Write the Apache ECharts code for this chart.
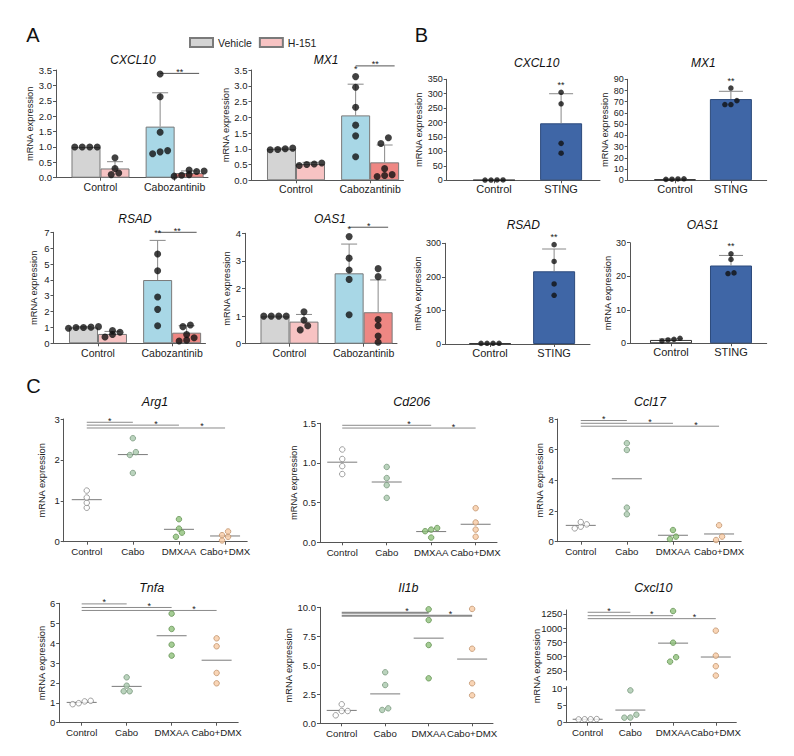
<!DOCTYPE html>
<html>
<head>
<meta charset="utf-8">
<title>mRNA expression panels</title>
<script src="https://cdn.jsdelivr.net/npm/echarts@6.0.0/dist/echarts.min.js"></script>
<style>
  html, body { margin: 0; padding: 0; background: #fff; }
  #chart { width: 794px; height: 756px; }
</style>
</head>
<body>
<div id="chart"></div>
<script>
const FONT = 'Arial, "Liberation Sans", Helvetica, sans-serif';
const AXIS = '#555';

// ---------- panel A: bars in order Control-Vehicle, Control-H151, Cabo-Vehicle, Cabo-H151
const aGroups = ['Control', 'Cabozantinib'];
const aLegend = ['Vehicle', 'H-151'];

const aCxcl10Mean = [1.00, 0.30, 1.66, 0.15];
const aCxcl10Sd = [0, 0.22, 1.10, 0.07];
const aCxcl10Pts = [
  [1.0, 1.0, 1.0, 1.0],
  [0.65, 0.30, 0.15, 0.10],
  [3.37, 2.63, 1.48, 0.84, 0.78, 0.88],
  [0.25, 0.22, 0.20, 0.10, 0.08, 0.05]
];
const aCxcl10Sig = [[2, 3, 3.39, '**']];
const aCxcl10Marks = [];

const aMx1Mean = [0.99, 0.52, 2.06, 0.57];
const aMx1Sd = [0.03, 0.05, 0.99, 0.55];
const aMx1Pts = [
  [1.02, 0.97, 1.00, 0.98],
  [0.55, 0.50, 0.47, 0.52],
  [3.29, 2.95, 2.32, 1.75, 1.41, 0.75],
  [1.35, 1.17, 0.37, 0.15, 0.12, 0.18]
];
const aMx1Sig = [[2, 3, 3.63, '**']];
const aMx1Marks = [[2, '*']];

const aRsadMean = [1.00, 0.59, 3.99, 0.67];
const aRsadSd = [0.05, 0.16, 2.50, 0.44];
const aRsadPts = [
  [1.05, 1.00, 0.95, 1.00, 1.02],
  [0.80, 0.70, 0.55, 0.40],
  [5.63, 4.58, 2.92, 2.14, 1.11],
  [1.15, 1.05, 0.55, 0.35, 0.15, 0.20]
];
const aRsadSig = [[2, 3, 7.0, '**']];
const aRsadMarks = [[2, '**']];

const aOas1Mean = [0.99, 0.80, 2.55, 1.14];
const aOas1Sd = [0.01, 0.26, 1.06, 1.17];
const aOas1Pts = [
  [1.0, 1.0, 1.0, 1.0],
  [1.16, 0.85, 0.65, 0.50],
  [3.88, 3.10, 2.67, 2.33, 1.05],
  [2.72, 2.43, 0.88, 0.65, 0.28, 0.05]
];
const aOas1Sig = [[2, 3, 4.22, '*']];
const aOas1Marks = [[2, '*']];

// ---------- panel B: Control, STING
const bGroups = ['Control', 'STING'];

const bCxcl10Mean = [1, 197.5];
const bCxcl10Sd = [0, 102.5];
const bCxcl10Pts = [[1.2, 0.8, 1.0, 1.1], [305, 265, 128, 94]];

const bMx1Mean = [1, 72.4];
const bMx1Sd = [0.3, 6.9];
const bMx1Pts = [[1.3, 0.8, 1.0, 1.2], [82.2, 71.0, 67.5, 67.5]];

const bRsadMean = [2, 216.6];
const bRsadSd = [0.5, 66.4];
const bRsadPts = [[2.2, 1.8, 2.0, 2.1], [296, 246, 179, 145]];

const bOas1Mean = [1.0, 23.2];
const bOas1Sd = [0.3, 3.0];
const bOas1Pts = [[1.5, 1.2, 0.7, 1.0], [26.7, 25.0, 21.0, 20.8]];

const bMarks = [[1, '**']];

// ---------- panel C: Control, Cabo, DMXAA, Cabo+DMX (line = group mean)
const cGroups = ['Control', 'Cabo', 'DMXAA', 'Cabo+DMX'];

const cArg1 = [[1.25, 1.08, 0.83, 0.95], [2.53, 2.19, 2.12, 1.68], [0.55, 0.32, 0.22, 0.12], [0.25, 0.16, 0.12, 0.03]];
const cArg1Sig = [[1, 2, 2.92, '*'], [1, 3, 2.85, '*'], [1, 4, 2.78, '*']];

const cCd206 = [[1.17, 1.05, 0.96, 0.86], [0.95, 0.81, 0.72, 0.56], [0.18, 0.16, 0.14, 0.06], [0.43, 0.25, 0.16, 0.07]];
const cCd206Sig = [[1, 3, 1.475, '*'], [1, 4, 1.44, '*']];

const cCcl17 = [[1.28, 1.13, 0.87, 0.98], [6.42, 5.98, 2.22, 1.79], [0.76, 0.33, 0.17], [1.07, 0.33, 0.11]];
const cCcl17Sig = [[1, 2, 7.9, '*'], [1, 3, 7.72, '*'], [1, 4, 7.53, '*']];

const cTnfa = [[1.07, 0.93, 1.10, 0.98], [2.28, 1.86, 1.58, 1.58], [5.48, 4.71, 3.92, 3.37], [4.24, 3.84, 2.50, 1.98]];
const cTnfaSig = [[1, 2, 5.97, '*'], [1, 3, 5.79, '*'], [1, 4, 5.64, '*']];

const cIl1b = [[1.64, 1.06, 1.06, 0.69], [4.40, 3.30, 1.15, 1.29], [9.83, 8.90, 6.75, 3.88], [9.86, 6.43, 3.45, 2.41]];
const cIl1bSig = [[1, 3, 9.54, '*'], [1, 4, 9.28, '*']];

const cCxcl10 = [[1.0, 1.05, 0.95, 1.0], [9.4, 2.33, 1.46, 1.5], [1302, 746, 490, 413], [957, 518, 332, 168]];
const cCxcl10Sig = [[1, 2, 1280, '*'], [1, 3, 1220, '*'], [1, 4, 1168, '*']];
const cCxcl10LowTicks = [0, 5, 10];
const cCxcl10HighTicks = [250, 500, 750, 1000, 1250];

// ---------- styles
const aFill = ['#d4d4d4', '#f7c3c3', '#a8d7e6', '#ee8783'];
const cFill = ['#ffffff', '#a9c8ad', '#8fc07a', '#f7caa4'];
const cEdge = ['#7a7a7a', '#6f8f74', '#5b8a49', '#b98a62'];
const C_FONT = 9.7;

const option = {
  animation: false,
  backgroundColor: '#fff',
  textStyle: { fontFamily: FONT },
  legend: {
    data: aLegend, left: 189, top: 37, padding: 0, icon: 'rect',
    itemWidth: 23, itemHeight: 9, itemGap: 7, selectedMode: false,
    textStyle: { fontSize: 10.5, color: '#222', fontFamily: FONT }
  },
  grid: [], xAxis: [], yAxis: [], series: [], graphic: []
};

function addGrid(p, groups, showX) {
  const i = option.grid.length;
  const cats = groups.map((g, k) => k + 1);
  option.grid.push({ left: p.left, top: p.top, width: p.width, height: p.height, outerBoundsMode: 'none' });
  option.xAxis.push({
    type: 'value', gridIndex: i, min: p.xMin, max: p.xMax,
    axisLine: { show: showX, onZero: false, lineStyle: { color: AXIS, width: 1 } },
    axisTick: { show: showX, customValues: cats, length: 3, lineStyle: { color: AXIS } },
    axisLabel: {
      show: showX, customValues: cats, hideOverlap: false, showMinLabel: true, showMaxLabel: true,
      formatter: v => groups[Math.round(v) - 1] || '',
      fontSize: p.xFont, color: '#222', margin: p.xMargin, fontFamily: FONT
    },
    splitLine: { show: false }
  });
  const y = {
    type: 'value', gridIndex: i, min: p.yMin || 0, max: p.yMax,
    axisLine: { show: true, onZero: false, lineStyle: { color: AXIS } },
    axisTick: { show: true, length: 3, lineStyle: { color: AXIS } },
    axisLabel: { fontSize: p.yFont || 9.5, color: '#222', margin: 4, fontFamily: FONT, formatter: v => v.toFixed(p.dec || 0) },
    splitLine: { show: false }
  };
  if (p.ticks) {
    y.axisTick.customValues = p.ticks;
    y.axisLabel.customValues = p.ticks;
  } else {
    y.interval = p.step;
  }
  if (p.nameGap) {
    Object.assign(y, {
      name: 'mRNA expression', nameLocation: 'middle', nameGap: p.nameGap,
      nameTextStyle: { fontSize: 9.3, color: '#222', fontFamily: FONT }
    });
  }
  option.yAxis.push(y);
  return i;
}

// rows of near-equal values are spread symmetrically around the group centre
function swarm(vals, cx, ux, uy, d) {
  const order = vals.map((v, i) => i).sort((a, b) => vals[a] - vals[b]);
  const out = [];
  let row = [];
  const flush = () => {
    row.forEach((i, k) => out.push([cx + (k - (row.length - 1) / 2) * d / ux, vals[i]]));
    row = [];
  };
  order.forEach(i => {
    if (row.length && (vals[i] - vals[row[0]]) * uy >= d * 0.8) flush();
    row.push(i);
  });
  flush();
  return out;
}

function scales(p) {
  return [p.width / (p.xMax - p.xMin), p.height / (p.yMax - (p.yMin || 0))];
}

function dots(gi, p, xs, pts, idx, size, styleFor) {
  const [ux, uy] = scales(p);
  idx.forEach(g => {
    option.series.push({
      type: 'scatter', xAxisIndex: gi, yAxisIndex: gi, symbolSize: size, z: 5,
      itemStyle: styleFor(g), data: swarm(pts[g], xs[g], ux, uy, size + 0.5)
    });
  });
}

function errorBars(gi, xs, mean, sd, cap) {
  option.series.push({
    type: 'custom', xAxisIndex: gi, yAxisIndex: gi, z: 3,
    data: mean.map((m, k) => [xs[k], m, m + sd[k]]).filter((d, k) => sd[k] > 0),
    renderItem: (params, api) => {
      const a = api.coord([api.value(0), api.value(1)]);
      const b = api.coord([api.value(0), api.value(2)]);
      const st = { stroke: '#888', lineWidth: 1 };
      return {
        type: 'group', children: [
          { type: 'line', shape: { x1: a[0], y1: a[1], x2: b[0], y2: b[1] }, style: st },
          { type: 'line', shape: { x1: b[0] - cap / 2, y1: b[1], x2: b[0] + cap / 2, y2: b[1] }, style: st }
        ]
      };
    }
  });
}

// lines: [x1, x2, y, text, textX]
function sigLines(gi, lines, color, width) {
  option.series.push({
    type: 'custom', xAxisIndex: gi, yAxisIndex: gi, z: 4,
    data: lines.map(l => [l[0], l[1], l[2], l[4]]),
    renderItem: (params, api) => {
      const a = api.coord([api.value(0), api.value(2)]);
      const b = api.coord([api.value(1), api.value(2)]);
      const t = api.coord([api.value(3), api.value(2)]);
      return {
        type: 'group', children: [
          { type: 'line', shape: { x1: a[0], y1: a[1], x2: b[0], y2: b[1] }, style: { stroke: color, lineWidth: width } },
          { type: 'text', x: t[0], y: a[1] - 1.5, style: { text: lines[params.dataIndex][3], align: 'center', verticalAlign: 'middle', fontSize: 9, fill: '#222', fontFamily: FONT } }
        ]
      };
    }
  });
}

// text above the highest dot / cap of a bar: [x, top, text]
function marks(gi, items) {
  if (!items.length) return;
  option.series.push({
    type: 'custom', xAxisIndex: gi, yAxisIndex: gi, z: 4,
    data: items.map(m => [m[0], m[1]]),
    renderItem: (params, api) => {
      const c = api.coord([api.value(0), api.value(1)]);
      return { type: 'text', x: c[0], y: c[1] - 7.5, style: { text: items[params.dataIndex][2], align: 'center', verticalAlign: 'middle', fontSize: 9, fill: '#222', fontFamily: FONT } };
    }
  });
}

function meanLines(gi, xs, pts, idx, half) {
  option.series.push({
    type: 'custom', xAxisIndex: gi, yAxisIndex: gi, z: 3,
    data: idx.map(g => [xs[g], pts[g].reduce((s, v) => s + v, 0) / pts[g].length]),
    renderItem: (params, api) => {
      const c = api.coord([api.value(0), api.value(1)]);
      return { type: 'line', shape: { x1: c[0] - half, y1: c[1], x2: c[0] + half, y2: c[1] }, style: { stroke: '#7a7a7a', lineWidth: 1 } };
    }
  });
}

const topOf = (mean, sd, pts, k) => Math.max(Math.max(...pts[k]), mean[k] + sd[k]);

const A_BAR = 29;
function panelA(p, mean, sd, pts, sig, mk) {
  const gi = addGrid(p, aGroups, true);
  const [ux] = scales(p);
  const off = A_BAR / 2 / ux;
  const xs = [1 - off, 1 + off, 2 - off, 2 + off];
  aLegend.forEach((name, s) => {
    option.series.push({
      type: 'bar', name, xAxisIndex: gi, yAxisIndex: gi, barWidth: A_BAR, barGap: '-100%', z: 2,
      itemStyle: { color: aFill[s], borderColor: '#7a7a7a', borderWidth: 1 },
      data: [0, 1].map(g => ({ value: [xs[2 * g + s], mean[2 * g + s]], itemStyle: { color: aFill[2 * g + s] } }))
    });
  });
  errorBars(gi, xs, mean, sd, 16);
  dots(gi, p, xs, pts, [0, 1, 2, 3], 7, () => ({ color: '#111' }));
  sigLines(gi, sig.map(s => [xs[s[0]], xs[s[1]] + 10 / ux, s[2], s[3], (xs[s[0]] + xs[s[1]] + 10 / ux) / 2]), '#555', 1);
  marks(gi, mk.map(m => [xs[m[0]], topOf(mean, sd, pts, m[0]), m[1]]));
}

const B_BAR = 42;
function panelB(p, mean, sd, pts) {
  const gi = addGrid(p, bGroups, true);
  const xs = [1, 2];
  option.series.push({
    type: 'bar', xAxisIndex: gi, yAxisIndex: gi, barWidth: B_BAR, z: 2,
    data: xs.map((x, k) => ({
      value: [x, mean[k]],
      itemStyle: { color: k ? '#3f66a6' : '#ffffff', borderColor: k ? '#2d4b7c' : '#333', borderWidth: 1 }
    }))
  });
  errorBars(gi, xs, mean, sd, 24);
  dots(gi, p, xs, pts, [0, 1], 5.5, () => ({ color: '#111' }));
  marks(gi, bMarks.map(m => [xs[m[0]], topOf(mean, sd, pts, m[0]), m[1]]));
}

const cStyle = g => ({ color: cFill[g], borderColor: cEdge[g], borderWidth: 0.9 });
const cSig = sig => sig.map(s => [s[0], s[1], s[2], s[3], s[1] - 0.5]);
function panelC(p, pts, sig, sigWidth) {
  const gi = addGrid(p, cGroups, true);
  const xs = [1, 2, 3, 4];
  dots(gi, p, xs, pts, [0, 1, 2, 3], 5.5, cStyle);
  meanLines(gi, xs, pts, [0, 1, 2, 3], 15);
  sigLines(gi, cSig(sig), '#8a8a8a', sigWidth || 1);
}

// ---------- layouts (pixels)
const pA = [
  { left: 56, top: 70, width: 152, height: 107.7, xMin: 0.4, xMax: 2.45, yMax: 3.5, step: 0.5, dec: 1, nameGap: 18, xFont: 10.5, xMargin: 3.5 },
  { left: 251.5, top: 70, width: 152, height: 110.3, xMin: 0.4, xMax: 2.45, yMax: 3.5, step: 0.5, dec: 1, nameGap: 18.7, xFont: 10.5, xMargin: 3.5 },
  { left: 53.5, top: 232.3, width: 152, height: 111, xMin: 0.4, xMax: 2.45, yMax: 7, step: 1, nameGap: 15.3, xFont: 10.5, xMargin: 4 },
  { left: 245, top: 233.3, width: 152, height: 110.4, xMin: 0.4, xMax: 2.45, yMax: 4, step: 1, nameGap: 12.6, xFont: 10.5, xMargin: 4 }
];
const pB = [
  { left: 446.7, top: 79.3, width: 153.3, height: 101, xMin: 0.294, xMax: 2.58, yMax: 350, step: 50, nameGap: 19, yFont: 9, xFont: 11, xMargin: 3.5 },
  { left: 627.7, top: 79.3, width: 139, height: 101, xMin: 0.155, xMax: 2.64, yMax: 90, step: 10, nameGap: 13, yFont: 9, xFont: 11, xMargin: 3.5 },
  { left: 445, top: 243.3, width: 145, height: 100.7, xMin: 0.297, xMax: 2.56, yMax: 300, step: 100, nameGap: 18.6, yFont: 9, xFont: 11, xMargin: 3.5 },
  { left: 630, top: 242.7, width: 136.7, height: 100.6, xMin: 0.317, xMax: 2.595, yMax: 30, step: 10, nameGap: 13.6, yFont: 9, xFont: 11, xMargin: 3.5 }
];
const pC = [
  { left: 63.7, top: 419, width: 183.5, height: 122.7, xMin: 0.5, xMax: 4.48, yMax: 3, step: 1, nameGap: 17.6, xFont: C_FONT, xMargin: 5 },
  { left: 320, top: 423.3, width: 177, height: 119, xMin: 0.5, xMax: 4.48, yMax: 1.5, step: 0.5, dec: 1, nameGap: 17.3, xFont: C_FONT, xMargin: 5 },
  { left: 557.7, top: 419, width: 183.5, height: 122.7, xMin: 0.5, xMax: 4.48, yMax: 8, step: 2, nameGap: 13, xFont: C_FONT, xMargin: 5 },
  { left: 59.2, top: 603.3, width: 179, height: 119.4, xMin: 0.5, xMax: 4.48, yMax: 6, step: 1, nameGap: 12.6, xFont: C_FONT, xMargin: 5 },
  { left: 320, top: 607.3, width: 173, height: 116, xMin: 0.5, xMax: 4.48, yMax: 10, step: 2.5, dec: 1, nameGap: 18.6, xFont: C_FONT, xMargin: 5 }
];
const pCxLow = { left: 566.3, top: 686.6, width: 170, height: 36.1, xMin: 0.5, xMax: 4.48, yMin: 0, yMax: 10.5, ticks: cCxcl10LowTicks, xFont: C_FONT, xMargin: 5 };
const pCxHigh = { left: 566.3, top: 610, width: 170, height: 70, xMin: 0.5, xMax: 4.48, yMin: 90, yMax: 1320, ticks: cCxcl10HighTicks, xFont: C_FONT, xMargin: 5 };

panelA(pA[0], aCxcl10Mean, aCxcl10Sd, aCxcl10Pts, aCxcl10Sig, aCxcl10Marks);
panelA(pA[1], aMx1Mean, aMx1Sd, aMx1Pts, aMx1Sig, aMx1Marks);
panelA(pA[2], aRsadMean, aRsadSd, aRsadPts, aRsadSig, aRsadMarks);
panelA(pA[3], aOas1Mean, aOas1Sd, aOas1Pts, aOas1Sig, aOas1Marks);

panelB(pB[0], bCxcl10Mean, bCxcl10Sd, bCxcl10Pts);
panelB(pB[1], bMx1Mean, bMx1Sd, bMx1Pts);
panelB(pB[2], bRsadMean, bRsadSd, bRsadPts);
panelB(pB[3], bOas1Mean, bOas1Sd, bOas1Pts);

panelC(pC[0], cArg1, cArg1Sig);
panelC(pC[1], cCd206, cCd206Sig);
panelC(pC[2], cCcl17, cCcl17Sig);
panelC(pC[3], cTnfa, cTnfaSig);
panelC(pC[4], cIl1b, cIl1bSig, 2);

// Cxcl10 with a broken y axis: two stacked grids sharing the x layout
(function () {
  const xs = [1, 2, 3, 4];
  const lo = addGrid(pCxLow, cGroups, true);
  dots(lo, pCxLow, xs, cCxcl10, [0, 1], 5.5, cStyle);
  meanLines(lo, xs, cCxcl10, [0, 1], 15);
  const hi = addGrid(pCxHigh, cGroups, false);
  dots(hi, pCxHigh, xs, cCxcl10, [2, 3], 5.5, cStyle);
  meanLines(hi, xs, cCxcl10, [2, 3], 15);
  sigLines(hi, cSig(cCxcl10Sig), '#8a8a8a', 1);
})();

// ---------- headings
const label = (text, x, y, size, italic, rotation) => ({
  type: 'text', x, y, rotation: rotation || 0,
  style: { text, fontSize: size, fontStyle: italic ? 'italic' : 'normal', fontFamily: FONT, fill: '#111', align: 'center', verticalAlign: 'middle' }
});
option.graphic = [
  label('A', 33, 35, 20), label('B', 421.5, 35, 20), label('C', 33.5, 386, 20),
  label('CXCL10', 133, 60, 12, true), label('MX1', 326, 60, 12, true),
  label('RSAD', 135, 219, 12, true), label('OAS1', 330, 219, 12, true),
  label('CXCL10', 536.7, 63.3, 12, true), label('MX1', 703.3, 63.3, 12, true),
  label('RSAD', 523.3, 225, 12, true), label('OAS1', 702.7, 225, 12, true),
  label('Arg1', 155, 401.7, 12.5, true), label('Cd206', 411.7, 401.7, 12.5, true), label('Ccl17', 650, 401.7, 12.5, true),
  label('Tnfa', 151.7, 588.3, 12.5, true), label('Il1b', 408.3, 588.3, 12.5, true), label('Cxcl10', 653.3, 588.3, 12.5, true),
  { ...label('mRNA expression', 537, 666, 9.3, false, Math.PI / 2), style: { text: 'mRNA expression', fontSize: 9.3, fontFamily: FONT, fill: '#222', align: 'center', verticalAlign: 'middle' } }
];

const chart = echarts.init(document.getElementById('chart'), null, { renderer: 'svg' });
chart.setOption(option);
</script>
</body>
</html>
